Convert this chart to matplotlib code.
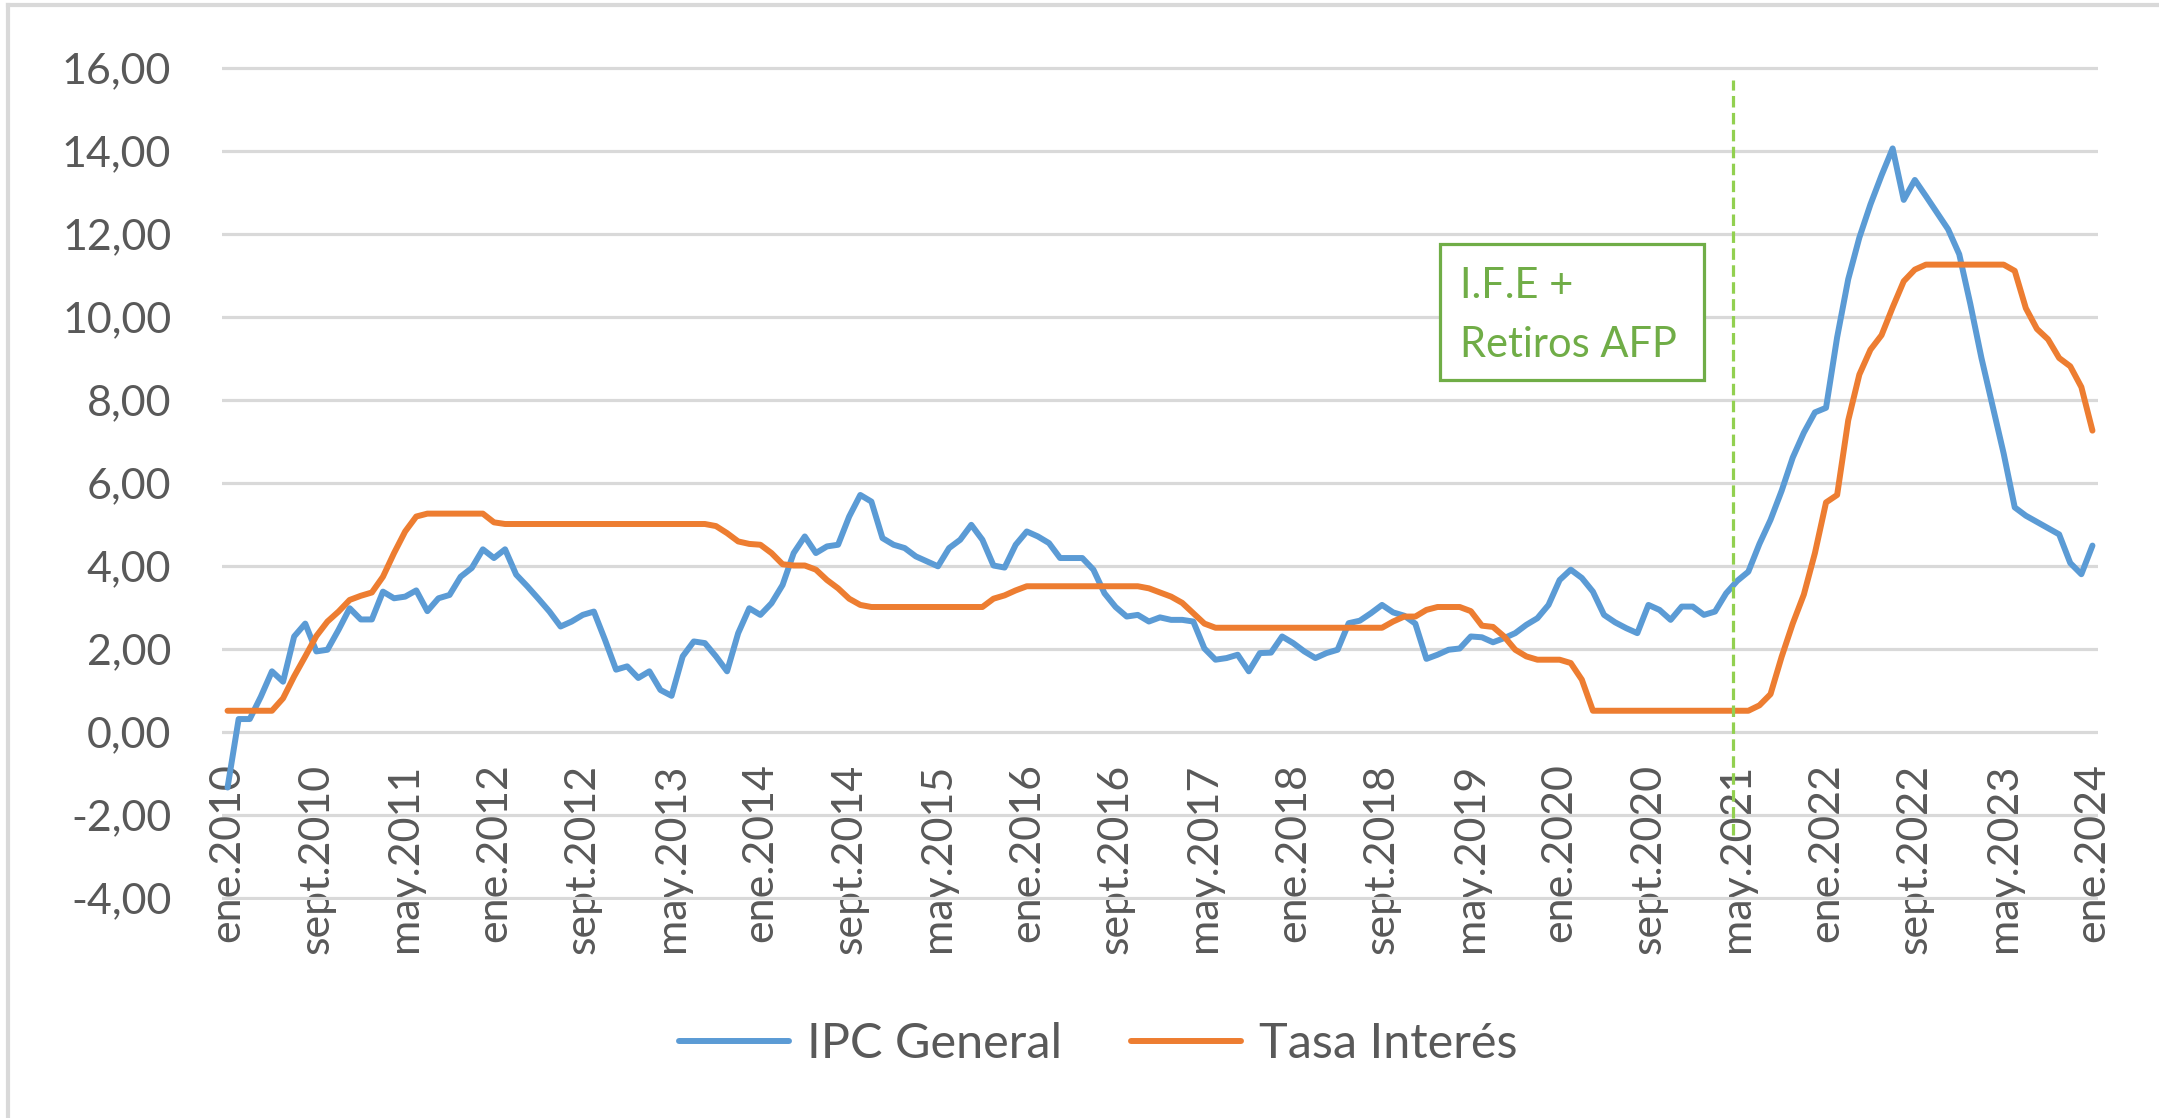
import matplotlib
matplotlib.use("Agg")
import matplotlib.pyplot as plt
from matplotlib.lines import Line2D
from matplotlib.patches import Rectangle

plt.rcParams['font.family'] = ['Lato', 'DejaVu Sans']

# ---------------- data ----------------
month_abbr = ["ene", "feb", "mar", "abr", "may", "jun",
              "jul", "ago", "sept", "oct", "nov", "dic"]
categories = [f"{month_abbr[m]}.{y}" for y in range(2010, 2025) for m in range(12)][:169]

ipc_general = [
    -1.35, 0.30, 0.30, 0.84, 1.45, 1.20, 2.29, 2.60, 1.93, 1.97, 2.45, 2.97,
    2.70, 2.70, 3.37, 3.21, 3.25, 3.40, 2.90, 3.21, 3.29, 3.73, 3.94, 4.39,
    4.18, 4.39, 3.78, 3.50, 3.20, 2.89, 2.53, 2.65, 2.81, 2.89, 2.21, 1.49,
    1.57, 1.29, 1.45, 1.00, 0.86, 1.81, 2.17, 2.13, 1.81, 1.45, 2.37, 2.97,
    2.81, 3.09, 3.53, 4.30, 4.70, 4.30, 4.46, 4.50, 5.18, 5.70, 5.54, 4.66,
    4.50, 4.42, 4.22, 4.10, 3.98, 4.42, 4.62, 4.98, 4.62, 4.00, 3.95, 4.50,
    4.82, 4.70, 4.54, 4.18, 4.18, 4.18, 3.90, 3.33, 3.00, 2.77, 2.81, 2.65,
    2.75, 2.69, 2.69, 2.65, 2.00, 1.73, 1.77, 1.85, 1.45, 1.89, 1.90, 2.29,
    2.13, 1.93, 1.77, 1.89, 1.97, 2.61, 2.67, 2.85, 3.05, 2.87, 2.79, 2.60,
    1.75, 1.85, 1.97, 2.00, 2.29, 2.27, 2.15, 2.25, 2.37, 2.57, 2.73, 3.05,
    3.65, 3.90, 3.70, 3.37, 2.81, 2.63, 2.49, 2.37, 3.05, 2.93, 2.69, 3.01,
    3.01, 2.81, 2.89, 3.33, 3.63, 3.85, 4.52, 5.10, 5.80, 6.60, 7.20, 7.69,
    7.80, 9.50, 10.90, 11.90, 12.70, 13.40, 14.05, 12.81, 13.29, 12.90, 12.50, 12.10,
    11.50, 10.30, 9.00, 7.85, 6.70, 5.40, 5.20, 5.05, 4.90, 4.75, 4.06, 3.79,
    4.48,
]

tasa_interes = [
    0.50, 0.50, 0.50, 0.50, 0.50, 0.80, 1.33, 1.81, 2.30, 2.65, 2.89, 3.17,
    3.27, 3.35, 3.73, 4.30, 4.82, 5.18, 5.25, 5.25, 5.25, 5.25, 5.25, 5.25,
    5.04, 5.00, 5.00, 5.00, 5.00, 5.00, 5.00, 5.00, 5.00, 5.00, 5.00, 5.00,
    5.00, 5.00, 5.00, 5.00, 5.00, 5.00, 5.00, 5.00, 4.95, 4.78, 4.58, 4.52,
    4.50, 4.30, 4.03, 4.00, 4.00, 3.90, 3.65, 3.45, 3.20, 3.05, 3.00, 3.00,
    3.00, 3.00, 3.00, 3.00, 3.00, 3.00, 3.00, 3.00, 3.00, 3.20, 3.28, 3.40,
    3.50, 3.50, 3.50, 3.50, 3.50, 3.50, 3.50, 3.50, 3.50, 3.50, 3.50, 3.45,
    3.35, 3.25, 3.10, 2.85, 2.60, 2.50, 2.50, 2.50, 2.50, 2.50, 2.50, 2.50,
    2.50, 2.50, 2.50, 2.50, 2.50, 2.50, 2.50, 2.50, 2.50, 2.65, 2.77, 2.77,
    2.93, 3.00, 3.00, 3.00, 2.90, 2.55, 2.52, 2.29, 1.97, 1.81, 1.73, 1.73,
    1.73, 1.65, 1.25, 0.50, 0.50, 0.50, 0.50, 0.50, 0.50, 0.50, 0.50, 0.50,
    0.50, 0.50, 0.50, 0.50, 0.50, 0.50, 0.63, 0.90, 1.80, 2.60, 3.30, 4.30,
    5.52, 5.70, 7.50, 8.60, 9.20, 9.55, 10.22, 10.85, 11.13, 11.25, 11.25, 11.25,
    11.25, 11.25, 11.25, 11.25, 11.25, 11.10, 10.20, 9.70, 9.45, 9.00, 8.80, 8.30,
    7.25,
]

tick_labels = ["ene.2010", "sept.2010", "may.2011", "ene.2012", "sept.2012",
               "may.2013", "ene.2014", "sept.2014", "may.2015", "ene.2016",
               "sept.2016", "may.2017", "ene.2018", "sept.2018", "may.2019",
               "ene.2020", "sept.2020", "may.2021", "ene.2022", "sept.2022",
               "may.2023", "ene.2024"]
y_ticks = [-4, -2, 0, 2, 4, 6, 8, 10, 12, 14, 16]
y_tick_labels = ["-4,00", "-2,00", "0,00", "2,00", "4,00", "6,00",
                 "8,00", "10,00", "12,00", "14,00", "16,00"]
series_names = ["IPC General", "Tasa Interés"]
event_label = "I.F.E +\nRetiros AFP"
event_position = 135.6

# ---------------- styles ----------------
BLUE = "#5B9BD5"
ORANGE = "#ED7D31"
GRID = "#D9D9D9"
TXT = "#595959"
GREEN_BOX = "#70AD47"
GREEN_LINE = "#92D050"

W, H = 2159, 1118
fig = plt.figure(figsize=(W / 100, H / 100), dpi=100)

px_per_unit = 41.5
y_top_px = 67.5 - 0.05 * px_per_unit
y_bot_px = 897.5 + 0.05 * px_per_unit
ax = fig.add_axes([222 / W, 1 - y_bot_px / H, (2098 - 222) / W, (y_bot_px - y_top_px) / H])
ax.set_xlim(-0.5, len(categories) - 0.5)
ax.set_ylim(-4.05, 16.05)

x = list(range(len(categories)))
ax.plot(x, ipc_general, color=BLUE, lw=4.3, solid_joinstyle='round',
        solid_capstyle='round', zorder=3, clip_on=False)
ax.plot(x, tasa_interes, color=ORANGE, lw=4.3, solid_joinstyle='round',
        solid_capstyle='round', zorder=4, clip_on=False)

ax.set_yticks(y_ticks)
ax.set_yticklabels(y_tick_labels)
ax.yaxis.grid(True, color=GRID, lw=2.3)
ax.xaxis.grid(False)
ax.set_axisbelow(True)
for s in ax.spines.values():
    s.set_visible(False)
ax.spines['bottom'].set_position(('data', 0))

tick_pos = [categories.index(t) for t in tick_labels]
ax.set_xticks(tick_pos)
ax.set_xticklabels(tick_labels, rotation=90)
ax.tick_params(axis='y', length=0, pad=36.5, labelsize=31, labelcolor=TXT)
ax.tick_params(axis='x', length=0, pad=23, labelsize=31, labelcolor=TXT)

# event line and box
ax.plot([event_position, event_position], [-2.5, 15.7], color=GREEN_LINE, lw=2.3,
        dashes=(3.6, 1.7), zorder=6, clip_on=False)
ax.add_patch(Rectangle((109.2, 8.47), 133.0 - 109.2, 11.75 - 8.47,
                       fill=True, facecolor='white', edgecolor=GREEN_BOX, lw=2.3, zorder=7))
lines = event_label.split("\n")
ax.text(111.0, 10.45, lines[0], color=GREEN_BOX, fontsize=30, va='baseline', ha='left', zorder=8)
ax.text(111.0, 9.02, lines[1], color=GREEN_BOX, fontsize=30, va='baseline', ha='left', zorder=8)

# legend
handles = [Line2D([], [], color=BLUE, lw=4.3, solid_capstyle='round'),
           Line2D([], [], color=ORANGE, lw=4.3, solid_capstyle='round')]
fig.legend(handles, series_names, loc='center', bbox_to_anchor=(1098 / W, 1 - 1044 / H),
           ncol=2, frameon=False, fontsize=35, handlelength=2.26, handletextpad=0.37,
           columnspacing=1.42, labelcolor=TXT)

# chart-area border (top and left visible)
fig.add_artist(Line2D([8 / W, 1], [1 - 5 / H, 1 - 5 / H], transform=fig.transFigure,
                      color=GRID, lw=3))
fig.add_artist(Line2D([8 / W, 8 / W], [0, 1 - 5 / H], transform=fig.transFigure,
                      color=GRID, lw=3))

fig.savefig("out.png", dpi=100)
